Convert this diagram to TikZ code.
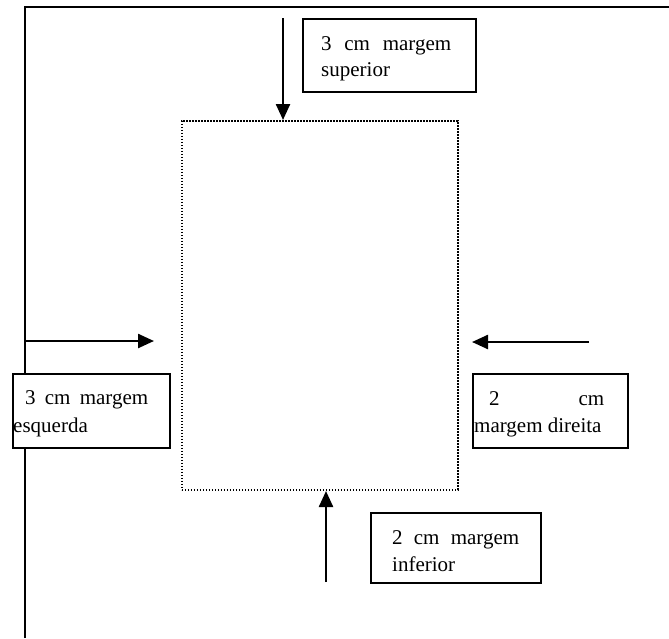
\documentclass[tikz,border=0pt]{standalone}
\usepackage{fontspec}
\setmainfont{Liberation Serif}
\usetikzlibrary{arrows.meta}
\begin{document}
\begin{tikzpicture}[x=1pt,y=-1pt,
  frame/.style={line width=1.8pt},
  boxst/.style={draw,line width=1.8pt,fill=white,inner sep=0pt,anchor=north west},
  arr/.style={line width=2.4pt,-{Triangle[length=16pt,width=14pt]}},
  txt/.style={anchor=base west,inner sep=0pt,font=\fontsize{21}{25}\selectfont}]
\useasboundingbox (0,0) rectangle (669,638);
\fill[white] (0,0) rectangle (669,638);
% page frame
\draw[frame] (25,638) -- (25,7) -- (669,7);
% text area
\node[draw,line width=1.6pt,dash pattern=on 1.6pt off 1.4pt,minimum width=276pt,minimum height=369pt,inner sep=0pt,anchor=north west] (area) at (181,120) {};
% arrows
\coordinate (ts) at (283,18);
\draw[arr] (ts) -- (ts |- area.north);
\coordinate (ls) at (25,341);
\coordinate (le) at (154,341);
\draw[arr] (ls) -- (le);
\coordinate (rs) at (589,342);
\coordinate (re) at (472,342);
\draw[arr] (rs) -- (re);
\coordinate (bs) at (326,582);
\coordinate (be) at (326,491);
\draw[arr] (bs) -- (be);
% boxes
\node[boxst,minimum width=173pt,minimum height=73pt] (topbox) at (302,18) {};
\node[boxst,minimum width=157pt,minimum height=74pt] (leftbox) at (12,373) {};
\node[boxst,minimum width=155pt,minimum height=74pt] (rightbox) at (472,373) {};
\node[boxst,minimum width=170pt,minimum height=70pt] (botbox) at (370,512) {};
% texts
\node[txt] (t1) at (321,50) {\makebox[130pt][s]{3 cm margem}};
\node[txt] (t2) at (321,76) {superior};
\node[txt] (l1) at (25,404) {\makebox[123pt][s]{3 cm margem}};
\node[txt] (l2) at (13,432) {esquerda};
\node[txt] (r1) at (489,405) {\makebox[115pt][s]{2 cm}};
\node[txt] (r2) at (474,432) {margem direita};
\node[txt] (b1) at (392,544) {\makebox[127pt][s]{2 cm margem}};
\node[txt] (b2) at (392,571) {inferior};
\end{tikzpicture}
\end{document}
